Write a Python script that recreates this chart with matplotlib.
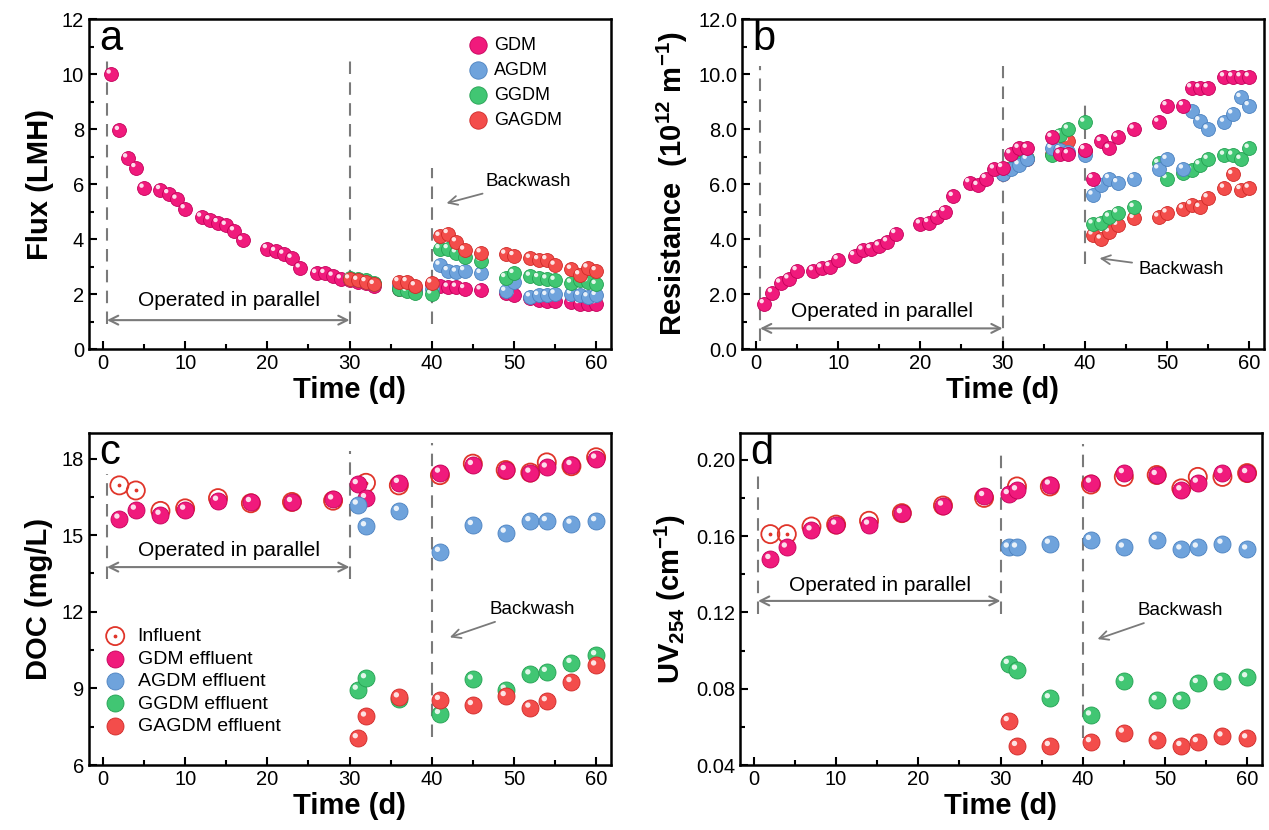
import numpy as np
import matplotlib.pyplot as plt
from matplotlib.ticker import MultipleLocator, FormatStrFormatter
from matplotlib.transforms import offset_copy
from matplotlib.legend_handler import HandlerTuple

plt.rcParams['font.family'] = ['Liberation Sans', 'DejaVu Sans']
plt.rcParams['mathtext.default'] = 'regular'

# ---- panel a / b : flux and resistance ----
days_gdm = [1, 2, 3, 4, 5, 7, 8, 9, 10, 12, 13, 14, 15, 16, 17, 20, 21, 22, 23, 24, 26, 27, 28, 29,
            30, 31, 32, 33, 36, 37, 38, 40, 41, 42, 43, 44, 46, 49, 50, 52, 53, 54, 55, 57, 58, 59, 60]
days_par = [30, 31, 32, 33, 36, 37, 38, 40, 41, 42, 43, 44, 46, 49, 50, 52, 53, 54, 55, 57, 58, 59, 60]

flux_gdm = [10.0, 7.95, 6.95, 6.6, 5.85, 5.8, 5.65, 5.45, 5.1, 4.8, 4.7, 4.6, 4.5, 4.3, 3.95, 3.65, 3.55,
            3.45, 3.3, 2.95, 2.75, 2.75, 2.65, 2.55, 2.5, 2.45, 2.4, 2.3, 2.2, 2.25, 2.15, 2.35, 2.3, 2.25,
            2.25, 2.2, 2.15, 2.05, 1.95, 1.85, 1.8, 1.75, 1.75, 1.7, 1.65, 1.65, 1.65]
flux_agdm = [2.55, 2.5, 2.45, 2.35, 2.3, 2.3, 2.2, 2.2, 3.05, 2.85, 2.8, 2.85, 2.75, 2.1, 2.45, 1.9, 1.95,
             1.95, 2.0, 2.0, 1.95, 1.9, 1.95]
flux_ggdm = [2.6, 2.55, 2.5, 2.4, 2.2, 2.1, 2.05, 2.0, 3.65, 3.65, 3.5, 3.35, 3.2, 2.6, 2.75, 2.65, 2.6,
             2.55, 2.5, 2.4, 2.5, 2.45, 2.35]
flux_gagdm = [2.55, 2.5, 2.45, 2.35, 2.45, 2.45, 2.3, 2.4, 4.1, 4.2, 3.9, 3.6, 3.5, 3.45, 3.4, 3.3, 3.25,
              3.25, 3.05, 2.9, 2.7, 2.95, 2.85]

res_gdm = [1.65, 2.05, 2.4, 2.55, 2.85, 2.85, 2.95, 3.0, 3.25, 3.4, 3.6, 3.65, 3.75, 3.9, 4.2, 4.55, 4.6,
           4.8, 5.0, 5.55, 6.05, 5.95, 6.2, 6.55, 6.6, 7.1, 7.3, 7.3, 7.7, 7.1, 7.1, 7.25, 6.2, 7.55, 7.3,
           7.7, 8.0, 8.25, 8.85, 8.85, 9.5, 9.5, 9.5, 9.9, 9.9, 9.9, 9.9]
res_agdm = [6.35, 6.55, 6.7, 6.9, 7.3, 7.25, 7.15, 7.05, 5.6, 5.95, 6.2, 6.05, 6.2, 6.55, 6.9, 6.55, 8.65,
            8.3, 8.0, 8.25, 8.55, 9.15, 8.85]
res_ggdm = [6.4, 6.6, 6.75, 6.95, 7.05, 7.8, 8.0, 8.25, 4.55, 4.6, 4.8, 4.95, 5.15, 6.75, 6.2, 6.4, 6.5,
            6.7, 6.9, 7.05, 7.05, 6.9, 7.3]
res_gagdm = [6.35, 6.6, 6.75, 6.9, 7.1, 7.35, 7.55, 7.2, 4.15, 4.0, 4.25, 4.5, 4.75, 4.8, 4.95, 5.1, 5.25,
             5.15, 5.5, 5.85, 6.35, 5.8, 5.85]

# ---- panel c / d : water quality ----
days_inf = [2, 4, 7, 10, 14, 18, 23, 28, 32, 36, 41, 45, 49, 52, 54, 57, 60]
days_eff = [2, 4, 7, 10, 14, 18, 23, 28, 31, 32, 36, 41, 45, 49, 52, 54, 57, 60]
days_wq = [31, 32, 36, 41, 45, 49, 52, 54, 57, 60]

doc_inf = [16.95, 16.75, 15.95, 16.05, 16.45, 16.25, 16.3, 16.35, 17.05, 16.95, 17.35, 17.8, 17.55, 17.45,
           17.85, 17.7, 18.05]
doc_gdm = [15.65, 16.0, 15.8, 16.0, 16.35, 16.3, 16.3, 16.4, 17.0, 16.45, 17.05, 17.45, 17.75, 17.55,
           17.45, 17.65, 17.75, 18.0]
doc_agdm = [16.2, 15.35, 15.95, 14.35, 15.4, 15.1, 15.55, 15.55, 15.45, 15.55]
doc_ggdm = [8.95, 9.4, 8.6, 8.0, 9.35, 8.95, 9.55, 9.65, 10.0, 10.3]
doc_gagdm = [7.05, 7.9, 8.65, 8.55, 8.35, 8.7, 8.25, 8.5, 9.25, 9.9]

uv_inf = [0.161, 0.161, 0.165, 0.166, 0.168, 0.172, 0.176, 0.180, 0.186, 0.186, 0.187, 0.191, 0.192,
          0.185, 0.191, 0.191, 0.193]
uv_gdm = [0.148, 0.154, 0.163, 0.166, 0.166, 0.172, 0.176, 0.181, 0.182, 0.184, 0.187, 0.188, 0.193,
          0.192, 0.184, 0.188, 0.193, 0.193]
uv_agdm = [0.154, 0.154, 0.156, 0.158, 0.154, 0.158, 0.153, 0.154, 0.156, 0.153]
uv_ggdm = [0.093, 0.090, 0.075, 0.066, 0.084, 0.074, 0.074, 0.083, 0.084, 0.086]
uv_gagdm = [0.063, 0.050, 0.050, 0.052, 0.057, 0.053, 0.050, 0.052, 0.055, 0.054]

PINK = ('#F01A7C', '#C4005A')
BLUE = ('#6FA3DC', '#4C82C0')
GREEN = ('#41C673', '#24A152')
RED = ('#F34D4B', '#CF2A28')
GREY = '#7A7A7A'

fig = plt.figure(figsize=(12.69, 8.30), dpi=100)
ax_a = fig.add_axes([0.0701, 0.5795, 0.4113, 0.3976])
ax_b = fig.add_axes([0.5847, 0.5795, 0.4113, 0.3976])
ax_c = fig.add_axes([0.0701, 0.0783, 0.4113, 0.4000])
ax_d = fig.add_axes([0.5831, 0.0783, 0.4113, 0.4000])


def balls(ax, x, y, col, s, z):
    base = ax.scatter(x, y, s=s, c=col[0], edgecolors=col[1], linewidths=0.6, zorder=z)
    tr = offset_copy(ax.transData, fig=fig, x=-1.8, y=1.8, units='points')
    ax.scatter(x, y, s=s * 0.1, c='white', edgecolors='none', alpha=0.85,
               transform=tr, zorder=z + 0.5)
    return base


def style(ax, ylim, ymaj, ymin, fmt, ylabel):
    ax.set_xlim(-1.7, 61.8)
    ax.set_ylim(*ylim)
    ax.xaxis.set_major_locator(MultipleLocator(10))
    ax.xaxis.set_minor_locator(MultipleLocator(5))
    ax.yaxis.set_major_locator(MultipleLocator(ymaj))
    ax.yaxis.set_minor_locator(MultipleLocator(ymin))
    ax.yaxis.set_major_formatter(FormatStrFormatter(fmt))
    ax.tick_params(which='both', direction='in', top=False, right=False, labelsize=14.5, width=1.5)
    ax.tick_params(which='major', length=6)
    ax.tick_params(which='minor', length=3.5)
    for sp in ax.spines.values():
        sp.set_linewidth(1.8)
    ax.set_xlabel('Time (d)', fontsize=21, fontweight='bold', labelpad=2)
    ax.set_ylabel(ylabel, fontsize=21, fontweight='bold', labelpad=6)


def vline(ax, x, y0, y1):
    ax.plot([x, x], [y0, y1], color=GREY, lw=1.5, ls=(0, (6, 4)), zorder=1)


def parallel(ax, y, ytxt):
    ax.annotate('', xy=(30, y), xytext=(0.5, y),
                arrowprops=dict(arrowstyle='<->', color=GREY, lw=1.5, mutation_scale=16,
                                shrinkA=0, shrinkB=0))
    ax.text(15.3, ytxt, 'Operated in parallel', fontsize=15, ha='center', va='center')


def backwash(ax, tip, txt):
    ax.annotate('Backwash', xy=tip, xytext=txt, fontsize=13.5, va='center', ha='left',
                arrowprops=dict(arrowstyle='->', color=GREY, lw=1.3, mutation_scale=16,
                                shrinkA=3, shrinkB=0))


# ---- a ----
ax = ax_a
h1 = balls(ax, days_gdm, flux_gdm, PINK, 100, 3)
h2 = balls(ax, days_par, flux_agdm, BLUE, 100, 4)
h3 = balls(ax, days_par, flux_ggdm, GREEN, 100, 5)
h4 = balls(ax, days_par, flux_gagdm, RED, 100, 6)
vline(ax, 0.5, 0.9, 10.7)
vline(ax, 30, 0.9, 10.6)
vline(ax, 40, 0.9, 6.6)
parallel(ax, 1.05, 1.75)
backwash(ax, (41.8, 5.3), (46.6, 6.1))
style(ax, (0, 12), 2, 1, '%d', 'Flux (LMH)')
ax.text(0.02, 1.0, 'a', transform=ax.transAxes, fontsize=30, va='top', ha='left')
ax.legend([h1, h2, h3, h4], ['GDM', 'AGDM', 'GGDM', 'GAGDM'], loc='upper left',
          bbox_to_anchor=(0.70, 0.985), frameon=False, fontsize=13, handletextpad=0.3,
          labelspacing=0.45, handlelength=1.2, borderpad=0.2, markerscale=1.25)

# ---- b ----
ax = ax_b
balls(ax, days_par, res_gagdm, RED, 100, 3)
balls(ax, days_par, res_ggdm, GREEN, 100, 4)
balls(ax, days_par, res_agdm, BLUE, 100, 5)
balls(ax, days_gdm, res_gdm, PINK, 100, 6)
vline(ax, 0.5, 0.3, 10.3)
vline(ax, 30, 0.0, 10.3)
vline(ax, 40, 3.1, 8.9)
parallel(ax, 0.75, 1.35)
backwash(ax, (41.8, 3.3), (46.6, 2.9))
style(ax, (0, 12), 2, 1, '%.1f', 'Resistance  (10$^{12}$ m$^{-1}$)')
ax.text(0.02, 1.0, 'b', transform=ax.transAxes, fontsize=30, va='top', ha='left')

# ---- c ----
ax = ax_c
inf_c = ax.scatter(days_inf, doc_inf, s=170, facecolors='none', edgecolors='#E0352A', linewidths=1.3, zorder=3)
dot_c = ax.scatter(days_inf, doc_inf, s=3, c='#E0352A', zorder=3)
c1 = balls(ax, days_eff, doc_gdm, PINK, 150, 4)
c2 = balls(ax, days_wq, doc_agdm, BLUE, 150, 5)
c3 = balls(ax, days_wq, doc_ggdm, GREEN, 150, 6)
c4 = balls(ax, days_wq, doc_gagdm, RED, 150, 7)
vline(ax, 0.5, 13.3, 17.4)
vline(ax, 30, 13.3, 18.3)
vline(ax, 40, 7.1, 18.6)
parallel(ax, 13.75, 14.4)
backwash(ax, (42.2, 11.0), (47.0, 12.1))
style(ax, (6, 19), 3, 1.5, '%d', 'DOC (mg/L)')
ax.text(0.02, 1.0, 'c', transform=ax.transAxes, fontsize=30, va='top', ha='left')
ax.legend([(inf_c, dot_c), c1, c2, c3, c4],
          ['Influent', 'GDM effluent', 'AGDM effluent', 'GGDM effluent', 'GAGDM effluent'],
          handler_map={tuple: HandlerTuple(ndivide=1)}, loc='upper left',
          bbox_to_anchor=(0.0, 0.455), frameon=False, fontsize=14, handletextpad=0.5,
          labelspacing=0.25, handlelength=1.3, borderpad=0.2)

# ---- d ----
ax = ax_d
ax.scatter(days_inf, uv_inf, s=170, facecolors='none', edgecolors='#E0352A', linewidths=1.3, zorder=3)
ax.scatter(days_inf, uv_inf, s=3, c='#E0352A', zorder=3)
balls(ax, days_eff, uv_gdm, PINK, 150, 4)
balls(ax, days_wq, uv_agdm, BLUE, 150, 5)
balls(ax, days_wq, uv_ggdm, GREEN, 150, 6)
balls(ax, days_wq, uv_gagdm, RED, 150, 7)
vline(ax, 0.5, 0.119, 0.194)
vline(ax, 30, 0.119, 0.204)
vline(ax, 40, 0.054, 0.208)
parallel(ax, 0.126, 0.134)
backwash(ax, (41.8, 0.106), (46.7, 0.121))
style(ax, (0.04, 0.214), 0.04, 0.02, '%.2f', 'UV$_{254}$ (cm$^{-1}$)')
ax.text(0.02, 1.0, 'd', transform=ax.transAxes, fontsize=30, va='top', ha='left')

fig.savefig('out.png', dpi=100)
